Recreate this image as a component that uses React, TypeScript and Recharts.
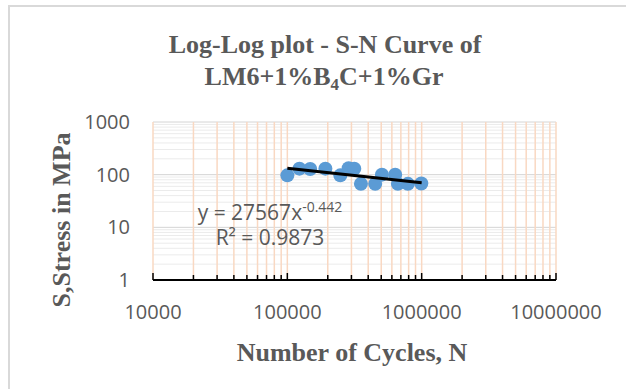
import { CartesianGrid, Scatter, ScatterChart, XAxis, YAxis } from 'recharts';

// Fatigue test results.
const CYCLES = [100000, 123000, 148000, 192000, 248000, 286000, 315000, 353000, 451000, 506000, 635000, 665000, 790000, 994000];
const STRESS = [97, 130, 128, 130, 97, 132, 130, 67, 67, 100, 100, 67, 67, 68];

// Power trendline as Excel drew it (endpoints only).
const TREND_CYCLES = [100000, 1000000];
const TREND_STRESS = [132, 70];

const X_DECADES = [10000, 100000, 1000000, 10000000];
const Y_DECADES = [1, 10, 100, 1000];
const MINOR_STEPS = [1, 2, 3, 4, 5, 6, 7, 8, 9];

const W = 626;
const H = 389;
const TEXT_GRAY = '#595959';
const SANS = '"Open Sans", sans-serif';
const SERIF = '"Liberation Serif", "Times New Roman", serif';

// Every 1..9 step inside each decade, plus the last decade itself.
const withMinors = (decades: number[]) =>
  decades.flatMap((d, i) => (i === decades.length - 1 ? [d] : MINOR_STEPS.map((k) => k * d)));

const X_TICKS = withMinors(X_DECADES);
const Y_TICKS = withMinors(Y_DECADES);

const points = CYCLES.map((n, i) => ({ n, s: STRESS[i] }));
const trend = TREND_CYCLES.map((n, i) => ({ n, s: TREND_STRESS[i] }));

function XTick(props: any) {
  const { x, y, payload } = props;
  const major = X_DECADES.includes(payload.value);
  return (
    <g>
      <line x1={x} y1={y} x2={x} y2={y - (major ? 7 : 5)} stroke="#000" strokeWidth={1.5} />
      {major && (
        <text x={x} y={y + 39} textAnchor="middle" fontFamily={SANS} fontSize={20} fill={TEXT_GRAY}>
          {payload.value}
        </text>
      )}
    </g>
  );
}

function YTick(props: any) {
  const { x, y, payload } = props;
  if (!Y_DECADES.includes(payload.value)) return <g />;
  return (
    <text x={x} y={y} dy="0.35em" textAnchor="end" fontFamily={SANS} fontSize={20} fill={TEXT_GRAY}>
      {payload.value}
    </text>
  );
}

export default function App() {
  return (
    <div style={{ position: 'absolute', left: 0, top: 0, width: W, height: H, background: '#fff', overflow: 'hidden' }}>
      {/* chart frame, cut off at the right and bottom in the source */}
      <div
        style={{
          position: 'absolute',
          left: 8,
          top: 5,
          width: W,
          height: H,
          borderLeft: '2px solid #D9D9D9',
          borderTop: '2px solid #D9D9D9',
        }}
      />
      <ScatterChart width={W} height={H} margin={{ top: 122, right: 70, bottom: 79, left: 0 }} style={{ position: 'absolute', left: 0, top: 0 }}>
        <CartesianGrid
          stroke="#F9D8C2"
          strokeWidth={1.5}
          vertical
          horizontal={(p: any) => {
            const v = Y_TICKS[p.index];
            return (
              <line
                key={p.key}
                x1={p.x1}
                y1={p.y1}
                x2={p.x2}
                y2={p.y2}
                stroke={Y_DECADES.includes(v) ? '#D4D4D4' : '#EBEBEB'}
                strokeWidth={1}
              />
            );
          }}
        />
        <XAxis
          dataKey="n"
          type="number"
          scale="log"
          domain={[10000, 10000000]}
          allowDataOverflow
          ticks={X_TICKS}
          interval={0}
          height={30}
          tickSize={0}
          tickMargin={0}
          tickLine={false}
          axisLine={{ stroke: '#000', strokeWidth: 2 }}
          tick={<XTick />}
        />
        <YAxis
          dataKey="s"
          type="number"
          scale="log"
          domain={[1, 1000]}
          allowDataOverflow
          ticks={Y_TICKS}
          interval={0}
          width={153}
          tickSize={0}
          tickMargin={23}
          tickLine={false}
          axisLine={false}
          tick={<YTick />}
        />
        <Scatter
          data={points}
          isAnimationActive={false}
          shape={(p: any) => <circle cx={p.cx} cy={p.cy} r={7} fill="#5B9BD5" />}
        />
        <Scatter
          data={trend}
          isAnimationActive={false}
          line={{ stroke: '#000', strokeWidth: 3 }}
          lineJointType="linear"
          shape={() => <g />}
        />
      </ScatterChart>
      <svg width={W} height={H} style={{ position: 'absolute', left: 0, top: 0, pointerEvents: 'none' }}>
        <g fontFamily={SERIF} fontWeight="bold" fontSize={26} fill={TEXT_GRAY} textAnchor="middle">
          <text x={325} y={53}>Log-Log plot - S-N Curve of</text>
          <text x={324} y={85}>
            LM6+1%B
            <tspan dy={5} fontSize={17}>4</tspan>
            <tspan dy={-5}>C+1%Gr</tspan>
          </text>
          <text x={352} y={361}>Number of Cycles, N</text>
          <text x={70} y={220} transform="rotate(-90, 70, 220)">S,Stress in MPa</text>
        </g>
        <g fontFamily={SANS} fontSize={21} fill={TEXT_GRAY} textAnchor="middle">
          <text x={270} y={220}>
            y = 27567x
            <tspan dy={-8} fontSize={14}>-0.442</tspan>
          </text>
          <text x={270} y={245}>R² = 0.9873</text>
        </g>
      </svg>
    </div>
  );
}
